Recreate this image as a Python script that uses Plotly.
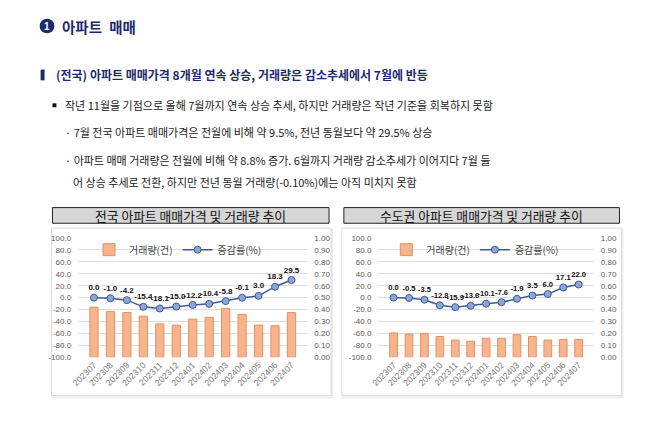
import plotly.graph_objects as go

W, H = 658, 425

months = ["202307", "202308", "202309", "202310", "202311", "202312",
          "202401", "202402", "202403", "202404", "202405", "202406", "202407"]

nat_volume = [0.42, 0.385, 0.375, 0.345, 0.28, 0.27, 0.32, 0.335, 0.41, 0.36, 0.27, 0.265, 0.375]
nat_change = [0.0, -1.0, -4.2, -15.4, -18.1, -15.0, -12.2, -10.4, -5.8, -0.1, 3.0, 18.3, 29.5]

cap_volume = [0.205, 0.195, 0.20, 0.175, 0.145, 0.135, 0.16, 0.16, 0.19, 0.175, 0.145, 0.15, 0.15]
cap_change = [0.0, -0.5, -3.5, -12.8, -15.9, -13.6, -10.1, -7.6, -1.9, 3.5, 6.0, 17.1, 22.0]

left_ticks = [-100, -80, -60, -40, -20, 0, 20, 40, 60, 80, 100]
right_ticks = [0.0, 0.1, 0.2, 0.3, 0.4, 0.5, 0.6, 0.7, 0.8, 0.9, 1.0]

chart_titles = ["전국 아파트 매매가격 및 거래량 추이", "수도권 아파트 매매가격 및 거래량 추이"]
bar_name = "거래량(건)"
line_name = "증감률(%)"

FONT = "Noto Sans CJK KR"
NUMFONT = "Liberation Sans"
BAR_FILL = "#f8b48c"
BAR_LINE = "#e3925f"
LINE_COL = "#3c5a9a"
MARK_FILL = "#8ea6d6"
AX_COL = "#595959"
GRID = "#dedede"


def px(x):
    return x / W


def py(y):
    return 1 - y / H


fig = go.Figure()

charts = [
    dict(vol=nat_volume, chg=nat_change, x0=71, x1=303, xa="x", ybar="y", yline="y2", leg="legend", fs=8),
    dict(vol=cap_volume, chg=cap_change, x0=375, x1=593, xa="x2", ybar="y3", yline="y4", leg="legend2", fs=7.6),
]

for c in charts:
    fig.add_trace(go.Bar(
        x=months, y=c["vol"], name=bar_name, xaxis=c["xa"], yaxis=c["ybar"],
        marker=dict(color=BAR_FILL, line=dict(color=BAR_LINE, width=1)),
        width=0.5, legend=c["leg"], hoverinfo="skip"))
    fig.add_trace(go.Scatter(
        x=months, y=c["chg"], name=line_name, xaxis=c["xa"], yaxis=c["yline"],
        mode="lines+markers+text",
        line=dict(color=LINE_COL, width=1.5),
        marker=dict(size=7, color=MARK_FILL, line=dict(color=LINE_COL, width=1)),
        text=[f"{v:.1f}" for v in c["chg"]], textposition="top center",
        textfont=dict(family=NUMFONT, size=c["fs"], color="#111111", weight="bold"),
        legend=c["leg"], hoverinfo="skip"))

ydom = [py(361), py(239)]
tickfont = dict(family=NUMFONT, size=8, color=AX_COL)

layout = dict(
    width=W, height=H, margin=dict(l=0, r=0, t=0, b=0),
    paper_bgcolor="white", plot_bgcolor="rgba(0,0,0,0)",
    showlegend=True,
    font=dict(family=FONT),
)

for c, (xk, yb, yl) in zip(charts, [("xaxis", "yaxis", "yaxis2"), ("xaxis2", "yaxis3", "yaxis4")]):
    layout[xk] = dict(domain=[px(c["x0"]), px(c["x1"])], anchor=c["ybar"],
                      type="category", tickangle=-45, tickfont=dict(family=NUMFONT, size=8.8, color="#7a7a7a"),
                      showgrid=False, showline=False, ticks="", ticklen=0)
    layout[yb] = dict(domain=ydom, anchor=c["xa"], side="right", range=[0, 1],
                      tickvals=right_ticks, ticktext=[f"{v:.2f}" for v in right_ticks],
                      tickfont=tickfont, showgrid=True, gridcolor=GRID, gridwidth=1,
                      zeroline=False, showline=False, ticklabelstandoff=6)
    layout[yl] = dict(overlaying=c["ybar"], side="left", anchor=c["xa"], range=[-100, 100],
                      tickvals=left_ticks, ticktext=[f"{v:.1f}" for v in left_ticks],
                      tickfont=tickfont, showgrid=False, zeroline=False, showline=False,
                      ticklabelstandoff=6)

legfont = dict(family=FONT, size=10, color="#444444")
layout["legend"] = dict(orientation="h", x=px(82), y=py(251), xanchor="left", yanchor="middle",
                        font=legfont, bgcolor="rgba(0,0,0,0)", itemwidth=30, tracegroupgap=0)
layout["legend2"] = dict(orientation="h", x=px(383), y=py(251), xanchor="left", yanchor="middle",
                         font=legfont, bgcolor="rgba(0,0,0,0)", itemwidth=30, tracegroupgap=0)

shapes = []
annotations = []

# chart panels and title boxes
for (bx0, bx1, tx0, tx1), title in zip([(44, 327, 45, 325), (338, 621, 340, 619)], chart_titles):
    shapes.append(dict(type="rect", xref="paper", yref="paper", x0=px(bx0 + 1), x1=px(bx1 + 1),
                       y0=py(402), y1=py(231), line=dict(color="#ececec", width=2), fillcolor="rgba(0,0,0,0)",
                       layer="below"))
    shapes.append(dict(type="rect", xref="paper", yref="paper", x0=px(bx0), x1=px(bx1),
                       y0=py(400), y1=py(229), line=dict(color="#dcdcdc", width=1), fillcolor="white",
                       layer="below"))
    shapes.append(dict(type="rect", xref="paper", yref="paper", x0=px(tx0), x1=px(tx1),
                       y0=py(224), y1=py(208), line=dict(color="#222222", width=1), fillcolor="#d6d6d6",
                       layer="below"))
    annotations.append(dict(text=title, xref="paper", yref="paper", x=px((tx0 + tx1) / 2), y=py(216.5),
                            xanchor="center", yanchor="middle", showarrow=False,
                            font=dict(family=FONT, size=12.8, color="#111111")))

# header
NAVY = "#1d2b6e"
shapes.append(dict(type="circle", xref="paper", yref="paper", x0=px(32), x1=px(47), y0=py(30), y1=py(15),
                   fillcolor=NAVY, line=dict(color=NAVY, width=0)))
annotations.append(dict(text="1", xref="paper", yref="paper", x=px(39.5), y=py(22.5), xanchor="center",
                        yanchor="middle", showarrow=False, font=dict(family=NUMFONT, size=10, color="white", weight="bold")))
annotations.append(dict(text="아파트\u2002매매", xref="paper", yref="paper", x=px(53), y=py(22.5), xanchor="left",
                        yanchor="middle", showarrow=False, font=dict(family=FONT, size=14.5, color=NAVY, weight="bold")))

shapes.append(dict(type="rect", xref="paper", yref="paper", x0=px(33), x1=px(37), y0=py(78), y1=py(67),
                   fillcolor=NAVY, line=dict(width=0)))
annotations.append(dict(text="(전국) 아파트 매매가격 8개월 연속 상승, 거래량은 감소추세에서 7월에 반등",
                        xref="paper", yref="paper", x=px(47), y=py(72.5), xanchor="left", yanchor="middle",
                        showarrow=False, font=dict(family=FONT, size=12, color=NAVY, weight="bold")))

shapes.append(dict(type="rect", xref="paper", yref="paper", x0=px(45), x1=px(49), y0=py(105.5), y1=py(101.5),
                   fillcolor="#111111", line=dict(width=0)))
body = dict(family=FONT, size=11, color="#222222")
lines = [
    (56, 103.5, "작년 11월을 기점으로 올해 7월까지 연속 상승 추세, 하지만 거래량은 작년 기준을 회복하지 못함"),
    (56, 131, "· 7월 전국 아파트 매매가격은 전월에 비해 약 9.5%, 전년 동월보다 약 29.5% 상승"),
    (56, 159, "· 아파트 매매 거래량은 전월에 비해 약 8.8% 증가. 6월까지 거래량 감소추세가 이어지다 7월 들"),
    (64, 182, "어 상승 추세로 전환, 하지만 전년 동월 거래량(-0.10%)에는 아직 미치지 못함"),
]
for x, y, t in lines:
    annotations.append(dict(text=t, xref="paper", yref="paper", x=px(x), y=py(y), xanchor="left",
                            yanchor="middle", showarrow=False, font=body))

layout["shapes"] = shapes
layout["annotations"] = annotations
fig.update_layout(**layout)

fig.write_html("out.html", config={"displayModeBar": False},
               post_script="document.body.style.margin='0';document.body.style.padding='0';")
